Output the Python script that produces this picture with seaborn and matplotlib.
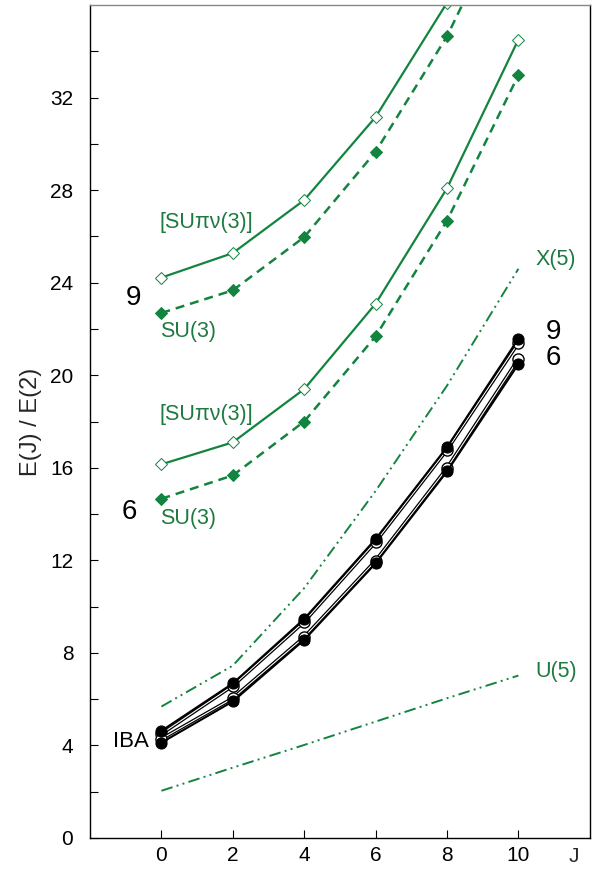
import matplotlib
matplotlib.use("Agg")
import matplotlib.pyplot as plt
import seaborn as sns
import numpy as np

sns.set_theme(style="white")
plt.rcParams['font.family'] = ['Liberation Sans', 'DejaVu Sans']

J = [0, 2, 4, 6, 8, 10]

# N = 9 group
supn_9 = [24.22, 25.28, 27.57, 31.16, 36.1, 42.3]
su3_9 = [22.69, 23.67, 25.97, 29.66, 34.65, 41.0]
# N = 6 group
supn_6 = [16.15, 17.10, 19.40, 23.09, 28.08, 34.51]
su3_6 = [14.66, 15.67, 18.00, 21.68, 26.68, 32.97]
# limits
x5 = [5.68, 7.45, 10.8, 15.0, 19.55, 24.6]
u5 = [2.04, 3.04, 4.02, 5.03, 6.04, 7.02]
# IBA
iba9_fill = [4.63, 6.68, 9.47, 12.92, 16.89, 21.58]
iba9_open = [4.50, 6.58, 9.35, 12.80, 16.78, 21.40]
iba6_fill = [4.12, 5.90, 8.56, 11.87, 15.84, 20.48]
iba6_open = [4.28, 6.04, 8.68, 11.98, 15.98, 20.70]

xticks = [0, 2, 4, 6, 8, 10]
yticks_major = [0, 4, 8, 12, 16, 20, 24, 28, 32]

green = "#13843f"
tgreen = "#1e7a40"

fig = plt.figure(figsize=(6.0, 8.69), dpi=100)
ax = fig.add_axes([0.15, 0.0357, 0.833, 0.9585])

dashdotdot = (0, (6, 2.2, 1, 2.2, 1, 2.2))

sns.lineplot(x=J, y=x5, ax=ax, color=green, lw=1.4, linestyle=dashdotdot)
sns.lineplot(x=J, y=u5, ax=ax, color=green, lw=1.4, linestyle=dashdotdot)

for ys in (supn_9, supn_6):
    sns.lineplot(x=J, y=ys, ax=ax, color=green, lw=1.6, marker="D", markersize=6,
                 markerfacecolor="white", markeredgecolor=green, markeredgewidth=0.7)
for ys in (su3_9, su3_6):
    sns.lineplot(x=J, y=ys, ax=ax, color=green, lw=1.8, linestyle=(0, (3.6, 2.4)),
                 marker="D", markersize=6, markerfacecolor=green, markeredgecolor=green)

for ys in (iba9_open, iba6_open):
    sns.lineplot(x=J, y=ys, ax=ax, color="black", lw=2.6)
    sns.lineplot(x=J, y=ys, ax=ax, color="white", lw=0.8, marker="o", markersize=8,
                 markerfacecolor="white", markeredgecolor="black", markeredgewidth=1.0)
for ys in (iba9_fill, iba6_fill):
    sns.lineplot(x=J, y=ys, ax=ax, color="black", lw=1.5, marker="o", markersize=8,
                 markerfacecolor="black", markeredgecolor="black")

ax.set_xlim(-2, 12)
ax.set_ylim(0, 36)
ax.set_xticks(xticks)
ax.set_xticklabels([str(t) for t in xticks])
ax.set_yticks(yticks_major)
ax.set_yticks(np.arange(2, 36, 4), minor=True)
ax.tick_params(axis="both", which="both", direction="in", length=6, width=0.8,
               colors="black", labelsize=15)
ax.tick_params(axis="x", pad=6)
ax.tick_params(axis="y", pad=12)
ax.tick_params(axis="y", which="minor", left=True)
ax.tick_params(axis="x", bottom=True)
ax.tick_params(axis="y", left=True)

for s in ["left", "bottom", "right"]:
    ax.spines[s].set_color("black")
    ax.spines[s].set_linewidth(1.0)
ax.spines["top"].set_color("#888888")
ax.spines["top"].set_linewidth(1.0)

ax.set_ylabel("E(J) / E(2)", fontsize=17, labelpad=6)
ax.set_xlabel("")
ax.text(11.55, -0.82, "J", fontsize=15, ha="center", va="center")

# annotations
ax.text(-0.78, 23.35, "9", fontsize=20, ha="center", va="center", color="black")
ax.text(-0.89, 14.1, "6", fontsize=20, ha="center", va="center", color="black")
ax.text(10.98, 21.88, "9", fontsize=20, ha="center", va="center", color="black")
ax.text(10.98, 20.76, "6", fontsize=20, ha="center", va="center", color="black")
ax.text(-0.84, 4.15, "IBA", fontsize=16, ha="center", va="center", color="black")
ax.text(-0.05, 26.6, "[SUπν(3)]", fontsize=15.5, ha="left", va="center", color=tgreen)
ax.text(-0.05, 18.3, "[SUπν(3)]", fontsize=15.5, ha="left", va="center", color=tgreen)
ax.text(-0.05, 21.9, "SU(3)", fontsize=15.5, ha="left", va="center", color=tgreen)
ax.text(-0.05, 13.8, "SU(3)", fontsize=15.5, ha="left", va="center", color=tgreen)
ax.text(11.05, 25.0, "X(5)", fontsize=15.5, ha="center", va="center", color=tgreen)
ax.text(11.05, 7.2, "U(5)", fontsize=15.5, ha="center", va="center", color=tgreen)

fig.savefig("out.png", dpi=100)
